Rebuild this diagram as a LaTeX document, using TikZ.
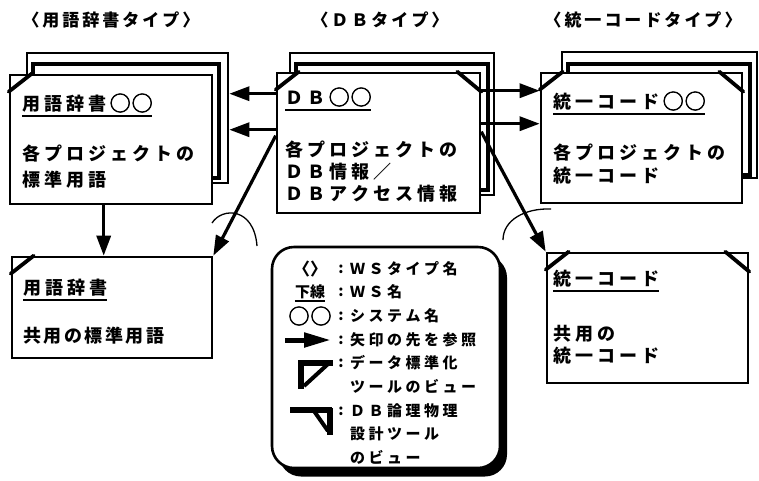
\documentclass[tikz,border=0pt]{standalone}
\usepackage{fontspec}
\newfontfamily\jpf{Noto Sans CJK JP}
\newfontfamily\circf[FakeBold=2.5]{Noto Sans CJK JP}
\usetikzlibrary{arrows.meta,calc}
\newcommand\spcd[2]{\def\spcamt{#2}\spcloop#1\relax}
\def\spcloop#1{\ifx\relax#1\else#1\hspace{\spcamt}\expandafter\spcloop\fi}
\newcommand\twocirc{{\circf\fontsize{20pt}{17pt}\selectfont ◯\hspace{2pt}◯}}
\tikzset{
  box/.style={draw, line width=2.6pt, fill=white, inner sep=0pt},
  sheet/.style={draw, line width=3.6pt, fill=white, inner sep=0pt},
  crn/.style={line width=3.8pt, line cap=round},
  btx/.style={anchor=west, inner sep=0pt, font=\jpf\bfseries\fontsize{18pt}{18pt}\selectfont},
  ttl/.style={anchor=center, inner sep=0pt, font=\jpf\bfseries\fontsize{17pt}{17pt}\selectfont},
  ltx/.style={anchor=west, inner sep=0pt, font=\jpf\bfseries\fontsize{15pt}{15pt}\selectfont},
  lsym/.style={anchor=center, inner sep=0pt, font=\jpf\bfseries\fontsize{15pt}{15pt}\selectfont},
  ul/.style={line width=1.8pt},
  arr/.style={line width=3.2pt, -{Triangle[length=20pt,width=14pt]}},
  arc/.style={line width=1.3pt},
}
\begin{document}
\begin{tikzpicture}[x=1pt,y=-1pt]
\fill[white] (0,0) rectangle (759,480);
\useasboundingbox (0,0) rectangle (759,480);

% titles
\node[ttl] (ti1) at (111,20) {\spcd{〈用語辞書タイプ〉}{3pt}};
\node[ttl] (ti2) at (380,20) {\spcd{〈ＤＢタイプ〉}{3pt}};
\node[ttl] (ti3) at (643,20) {\spcd{〈統一コードタイプ〉}{3pt}};

% left top stack
\node[box, minimum width=201pt, minimum height=130pt] (ltb) at (127.5,118) {};
\node[sheet, minimum width=186pt, minimum height=114pt] (lts) at (126,121) {};
\node[box, minimum width=202pt, minimum height=129pt] (lt) at (111,139.5) {};
\draw[crn] ($(lt.north west)+(0,18)$) -- ($(lt.north west)+(23,0)$);
\node[btx] (lt1) at (22,103) {\spcd{用語辞書}{4pt}\twocirc};
\draw[ul] ([yshift=-3pt]lt1.south west) -- ([yshift=-3pt]lt1.south east);
\node[btx] (lt2) at (22,154) {\spcd{各プロジェクトの}{4pt}};
\node[btx] (lt3) at (22,180) {\spcd{標準用語}{4pt}};

% middle top stack
\node[box, minimum width=204pt, minimum height=142pt] (mtb) at (392,124) {};
\node[sheet, minimum width=192pt, minimum height=126pt] (mts) at (392,127) {};
\node[box, minimum width=203pt, minimum height=140pt] (mt) at (378.5,143) {};
\draw[crn] ($(mt.north west)+(0,18)$) -- ($(mt.north west)+(23,0)$);
\draw[crn] ($(mt.north east)+(-24,0)$) -- ($(mt.north east)+(0,20)$);
\node[btx] (mt1) at (285,97) {\spcd{ＤＢ}{4pt}\twocirc};
\draw[ul] ([yshift=-3pt]mt1.south west) -- ([yshift=-3pt]mt1.south east);
\node[btx] (mt2) at (285,150) {\spcd{各プロジェクトの}{4pt}};
\node[btx] (mt3) at (285,172) {\spcd{ＤＢ情報／}{4pt}};
\node[btx] (mt4) at (285,194) {\spcd{ＤＢアクセス情報}{4pt}};

% right top stack
\node[box, minimum width=195pt, minimum height=126pt] (rtb) at (659.5,115) {};
\node[sheet, minimum width=182pt, minimum height=111pt] (rts) at (659,119.5) {};
\node[box, minimum width=201pt, minimum height=130pt] (rt) at (641.5,138) {};
\draw[crn] ($(rt.north west)+(0,18)$) -- ($(rt.north west)+(23,0)$);
\draw[crn] ($(rt.north east)+(-24,0)$) -- ($(rt.north east)+(0,20)$);
\node[btx] (rt1) at (553,101) {\spcd{統一コード}{4pt}\twocirc};
\draw[ul] ([yshift=-3pt]rt1.south west) -- ([yshift=-3pt]rt1.south east);
\node[btx] (rt2) at (553,153) {\spcd{各プロジェクトの}{4pt}};
\node[btx] (rt3) at (553,176) {\spcd{統一コード}{4pt}};

% bottom left
\node[box, minimum width=200pt, minimum height=101pt] (bl) at (112,307.5) {};
\draw[crn] ($(bl.north west)+(0,18)$) -- ($(bl.north west)+(23,0)$);
\node[btx] (bl1) at (23,288) {\spcd{用語辞書}{4pt}};
\draw[ul] ([yshift=-3pt]bl1.south west) -- ([yshift=-3pt]bl1.south east);
\node[btx] (bl2) at (23,336) {\spcd{共用の標準用語}{2.5pt}};

% bottom right
\node[box, minimum width=201pt, minimum height=130pt] (br) at (647.5,318) {};
\draw[crn] ($(br.north west)+(0,18)$) -- ($(br.north west)+(23,0)$);
\draw[crn] ($(br.north east)+(-24,0)$) -- ($(br.north east)+(0,20)$);
\node[btx] (br1) at (553,279) {\spcd{統一コード}{4pt}};
\draw[ul] ([yshift=-3pt]br1.south west) -- ([yshift=-3pt]br1.south east);
\node[btx] (br2) at (553,334) {\spcd{共用の}{4pt}};
\node[btx] (br3) at (553,356) {\spcd{統一コード}{4pt}};

% arrows
\draw[arr] ($(mt.north west)+(0,22)$) -- ($(ltb.north east)+(0,42)$);
\draw[arr] ($(mt.north west)+(0,58)$) -- ($(ltb.north east)+(0,78)$);
\draw[arr] ($(mt.north west)+(0,64)$) -- (bl.north east);
\draw[arr] ($(mt.north east)+(0,19)$) -- ($(rt.north west)+(0,19)$);
\draw[arr] ($(mt.north east)+(0,52)$) -- ($(rt.north west)+(0,52)$);
\draw[arr] ($(mt.north east)+(0,60)$) -- (br.north west);
\draw[arr] ($(lt.south west)+(95,0)$) -- ($(bl.north west)+(93,0)$);

% arcs
\draw[arc] (212,223) .. controls (222,207) and (254,207) .. (257,246);
\draw[arc] (503,240) .. controls (503,220) and (525,208) .. (551,209);

% legend
\node[fill=black, rounded corners=22pt, minimum width=228pt, minimum height=221pt, inner sep=0pt] (lgs) at (393,366) {};
\node[box, rounded corners=22pt, minimum width=228pt, minimum height=221pt] (lg) at (386,357.5) {};
\node[lsym, font=\jpf\bfseries\fontsize{17pt}{17pt}\selectfont] (s1) at (310,269) {〈〉};
\node[lsym] (s2) at (310,292) {下線};
\draw[ul] ([yshift=-2pt]s2.south west) -- ([yshift=-2pt]s2.south east);
\node[lsym] (s3) at (310,316) {\twocirc};
\coordinate (s4a) at (285,340);
\coordinate (s4b) at (331,340);
\draw[line width=5pt, -{Triangle[length=27pt,width=14pt]}] (s4a) -- (s4b);
\draw[line width=5.5pt] (298,363) -- (333,363);
\draw[line width=6pt] (301,361) -- (301,389);
\draw[line width=4pt] (304,386) -- (328,364);
\draw[line width=6pt] (290,410) -- (332,410);
\draw[line width=5.5pt] (330,408) -- (330,435);
\draw[line width=4pt] (314,411) -- (328,431);
\foreach \yy/\nm in {269/c1,292/c2,316/c3,340/c4,363/c5,411/c6}
  \node[lsym] (\nm) at (341,\yy) {:};
\node[ltx] (l1) at (350,269) {\spcd{ＷＳタイプ名}{3.5pt}};
\node[ltx] (l2) at (350,292) {\spcd{ＷＳ名}{3.5pt}};
\node[ltx] (l3) at (350,316) {\spcd{システム名}{3.5pt}};
\node[ltx] (l4) at (350,340) {\spcd{矢印の先を参照}{3.5pt}};
\node[ltx] (l5) at (350,363) {\spcd{データ標準化}{3.5pt}};
\node[ltx] (l6) at (350,386) {\spcd{ツールのビュー}{3.5pt}};
\node[ltx] (l7) at (350,411) {\spcd{ＤＢ論理物理}{3.5pt}};
\node[ltx] (l8) at (350,434) {\spcd{設計ツール}{3.5pt}};
\node[ltx] (l9) at (350,457) {\spcd{のビュー}{3.5pt}};
\end{tikzpicture}
\end{document}
